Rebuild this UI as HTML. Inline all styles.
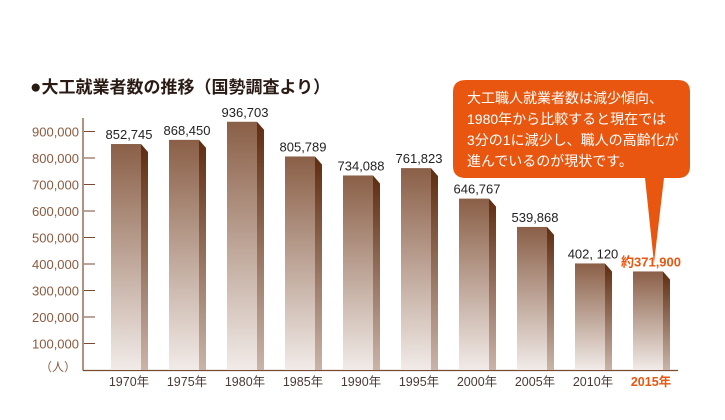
<!DOCTYPE html>
<html><head><meta charset="utf-8"><style>
body{margin:0;background:#fff;}
svg{display:block;font-family:"Liberation Sans","Noto Sans CJK JP",sans-serif;}
</style></head><body>
<svg id="chart" width="725" height="420" viewBox="0 0 725 420">
<defs>
<linearGradient id="gf" x1="0" y1="0" x2="0" y2="1"><stop offset="0" stop-color="#8a5f47"/><stop offset="1" stop-color="#f1ebe8"/></linearGradient>
<linearGradient id="gs" x1="0" y1="0" x2="0" y2="1"><stop offset="0" stop-color="#5e2c10"/><stop offset="1" stop-color="#c9b4a8"/></linearGradient>
</defs>
<text x="30" y="93" font-size="17" font-weight="bold" fill="#2a1a14"><tspan font-size="19">●</tspan>大工就業者数の推移（国勢調査より）</text>
<g id="axes"></g>
<g id="bars"></g>
<g>
<path d="M466,80 H678 Q690,80 690,92 V166 Q690,178 678,178 H664 L654,263 L645,178 H466 Q453,178 453,166 V92 Q453,80 466,80 Z" fill="#e8560f"/>
<g font-size="14" fill="#fff">
<text x="467" y="103">大工職人就業者数は減少傾向、</text>
<text x="467" y="124">1980年から比較すると現在では</text>
<text x="467" y="145">3分の1に減少し、職人の高齢化が</text>
<text x="467" y="166">進んでいるのが現状です。</text>
</g></g>
</svg>
<script>
const categories=["1970年","1975年","1980年","1985年","1990年","1995年","2000年","2005年","2010年","2015年"];
const values=[852745,868450,936703,805789,734088,761823,646767,539868,402120,371900];
const valueLabels=["852,745","868,450","936,703","805,789","734,088","761,823","646,767","539,868","402, 120","約371,900"];
const ticks=[100000,200000,300000,400000,500000,600000,700000,800000,900000];
const tickLabels=["100,000","200,000","300,000","400,000","500,000","600,000","700,000","800,000","900,000"];
const NS="http://www.w3.org/2000/svg";
const y=v=>370-v*0.000265;
const x=i=>111+i*58;
function mk(tag,attrs,parent,text){const e=document.createElementNS(NS,tag);for(const k in attrs)e.setAttribute(k,attrs[k]);if(text!=null)e.textContent=text;parent.appendChild(e);return e;}
const axes=document.getElementById('axes'),bars=document.getElementById('bars');
let a=mk('line',{x1:83,y1:118,x2:83,y2:370.5,stroke:'#7a4a33','stroke-width':1.2},axes);

let b=mk('line',{x1:83,y1:370.5,x2:678,y2:370.5,stroke:'#7a4a33','stroke-width':1.2},axes);

ticks.forEach((t,i)=>{
 let l=mk('line',{x1:84,y1:y(t),x2:95,y2:y(t),stroke:'#7a4a33','stroke-width':1},axes);
 
 let tx=mk('text',{x:79,y:y(t)+5,'text-anchor':'end','font-size':13,fill:'#8a5a40'},axes,tickLabels[i]);
 
});
let u=mk('text',{x:76,y:371,'text-anchor':'end','font-size':12,fill:'#8a5a40'},axes,"（人）");

values.forEach((v,i)=>{
 const x0=x(i),top=y(v),last=i===values.length-1;
 let g=mk('g',{},bars);
 
 mk('path',{d:`M${x0+30},${top} L${x0+37},${top+8} V370 H${x0+30} Z`,fill:'url(#gs)'},g);
 mk('rect',{x:x0,y:top,width:30,height:370-top,fill:'url(#gf)'},g);
 let vl=mk('text',{x:x0+18,y:top-5,'text-anchor':'middle','font-size':13,fill:last?'#e8560f':'#222','font-weight':last?'bold':'normal'},g,valueLabels[i]);
 
 let cl=mk('text',{x:x0+18,y:386,'text-anchor':'middle','font-size':12.5,fill:last?'#e8560f':'#4a3a33','font-weight':last?'bold':'normal'},g,categories[i]);
 
});
</script>
</body></html>
